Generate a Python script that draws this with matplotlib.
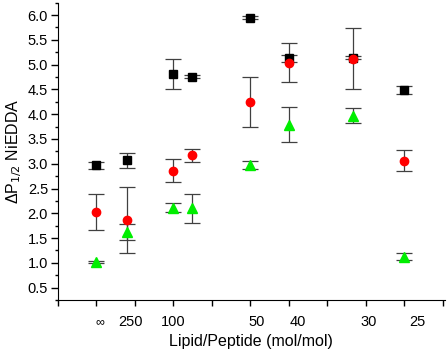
import numpy as np
import matplotlib
matplotlib.use("Agg")
import matplotlib.pyplot as plt
from matplotlib.ticker import MultipleLocator

plt.rcParams['font.family'] = ['Liberation Sans', 'DejaVu Sans']

# peptide/lipid mole ratio (1 / (lipid/peptide)), infinity -> 0
x_black = [0.0, 0.004, 0.01, 0.0125, 0.02, 0.025, 1 / 30, 0.04]
y_black = [2.97, 3.07, 4.81, 4.76, 5.95, 5.13, 5.14, 4.48]
e_black = [0.07, 0.15, 0.31, 0.03, 0.03, 0.07, 0.03, 0.08]

x_red = [0.0, 0.004, 0.01, 0.0125, 0.02, 0.025, 1 / 30, 0.04]
y_red = [2.02, 1.86, 2.86, 3.17, 4.24, 5.04, 5.12, 3.06]
e_red = [0.36, 0.67, 0.23, 0.13, 0.50, 0.40, 0.61, 0.21]

x_green = [0.0, 0.004, 0.01, 0.0125, 0.02, 0.025, 1 / 30, 0.04]
y_green = [1.01, 1.62, 2.11, 2.10, 2.98, 3.79, 3.97, 1.12]
e_green = [0.02, 0.16, 0.09, 0.29, 0.08, 0.35, 0.15, 0.07]

# hand-placed x labels (lipid/peptide) as in the original figure
label_pos = [0.0005, 0.0044, 0.01, 0.0209, 0.0262, 0.0354, 0.0417]
label_txt = ['\u221e', '250', '100', '50', '40', '30', '25']

fig = plt.figure(figsize=(4.48, 3.53), dpi=100)
ax = fig.add_axes([0.129, 0.150, 0.864, 0.8425])

ebkw = dict(ecolor='#404040', elinewidth=0.9, capsize=6, capthick=0.9, linestyle='none')
ax.errorbar(x_black, y_black, yerr=e_black, marker='s', ms=5.5, color='black', **ebkw)
ax.errorbar(x_red, y_red, yerr=e_red, marker='o', ms=6, color='#ff0000', **ebkw)
ax.errorbar(x_green, y_green, yerr=e_green, marker='^', ms=6.5, color='#00ee00', **ebkw)

ax.set_xlim(-0.005, 0.0453)
ax.set_ylim(0.25, 6.25)
ax.xaxis.set_major_locator(MultipleLocator(0.005))
ax.set_xticklabels([])
ax.yaxis.set_major_locator(MultipleLocator(0.5))
ax.yaxis.set_minor_locator(MultipleLocator(0.25))
ax.yaxis.set_major_formatter(matplotlib.ticker.FormatStrFormatter('%.1f'))
ax.tick_params(axis='y', which='major', length=5, width=1, labelsize=10.5, pad=2)
ax.tick_params(axis='y', which='minor', length=2.5, width=1)
ax.tick_params(axis='x', which='major', length=4, width=1)

for p, t in zip(label_pos, label_txt):
    ax.text(p, -0.075, t, transform=ax.get_xaxis_transform(), ha='center', va='center',
            fontsize=9 if t == '\u221e' else 10.5)

ax.spines['top'].set_visible(False)
ax.spines['right'].set_visible(False)
ax.set_xlabel('Lipid/Peptide (mol/mol)', fontsize=11.5, labelpad=17)
ax.set_ylabel('\u0394P$_{1/2}$ NiEDDA', fontsize=11.5, labelpad=3)

fig.savefig('out.png', dpi=100)
